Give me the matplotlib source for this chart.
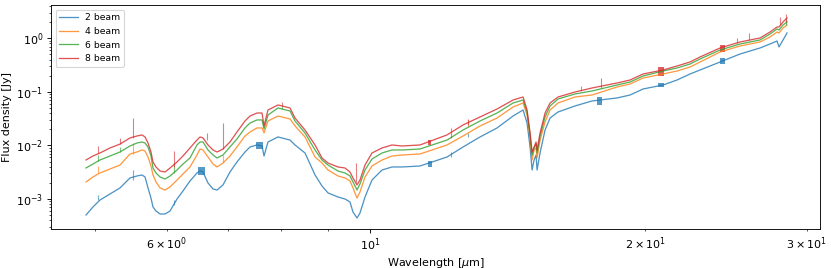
import matplotlib
matplotlib.use("Agg")
import matplotlib.pyplot as plt

# ---------------- data ----------------
wavelength = [4.894, 4.980, 5.069, 5.198, 5.331, 5.466, 5.563, 5.634, 5.677, 5.720,
              5.763, 5.792, 5.836, 5.896, 5.970, 6.046, 6.153, 6.246, 6.357, 6.470,
              6.520, 6.569, 6.652, 6.737, 6.805, 6.908, 7.030, 7.155, 7.301, 7.394,
              7.525, 7.621, 7.659, 7.736, 7.934, 8.177, 8.280, 8.491, 8.708, 8.862,
              8.997, 9.226, 9.391, 9.509, 9.581, 9.678, 9.751, 9.875, 10.050, 10.307,
              10.569, 10.839, 11.340, 12.139, 12.638, 13.191, 13.768, 14.334, 14.699, 14.847,
              14.960, 15.036, 15.111, 15.187, 15.226, 15.341, 15.535, 15.732, 16.052, 16.750,
              17.484, 18.622, 19.241, 19.881, 20.907, 21.656, 22.376, 22.946, 24.130, 25.375,
              26.684, 27.364, 27.850, 27.990, 28.273, 28.560]

flux_2beam = [0.000503, 0.000710, 0.000958, 0.00124, 0.00161, 0.00247, 0.00269, 0.00281, 0.00258, 0.00161,
              0.00104, 0.000710, 0.000597, 0.000525, 0.000525, 0.000597, 0.001000, 0.00141, 0.00217, 0.00306,
              0.00333, 0.00319, 0.00199, 0.00154, 0.00147, 0.00183, 0.00319, 0.00491, 0.00754, 0.00935,
              0.0102, 0.00976, 0.00635, 0.0116, 0.0144, 0.0126, 0.0102, 0.00723, 0.00281, 0.00175,
              0.00130, 0.00109, 0.001000, 0.000879, 0.000572, 0.000442, 0.000548, 0.00109, 0.00226, 0.00348,
              0.00396, 0.00396, 0.00413, 0.00608, 0.00935, 0.0144, 0.0212, 0.0354, 0.0459, 0.0262,
              0.00935, 0.00348, 0.00535, 0.00663, 0.00348, 0.00723, 0.0194, 0.0325, 0.0421, 0.0545,
              0.0676, 0.0769, 0.0874, 0.1131, 0.1343, 0.1665, 0.2156, 0.256, 0.361, 0.509,
              0.659, 0.783, 0.890, 0.688, 0.930, 1.256]

flux_4beam = [0.00208, 0.00258, 0.00306, 0.00363, 0.00431, 0.00692, 0.00754, 0.00822, 0.00787, 0.00608,
              0.00413, 0.00281, 0.00208, 0.00161, 0.00147, 0.00168, 0.00226, 0.00293, 0.00396, 0.00663,
              0.00858, 0.00822, 0.00608, 0.00450, 0.00396, 0.00470, 0.00635, 0.00935, 0.0150, 0.0178,
              0.0212, 0.0212, 0.0171, 0.0286, 0.0354, 0.0312, 0.0231, 0.0144, 0.00608, 0.00470,
              0.00348, 0.00269, 0.00247, 0.00217, 0.00161, 0.00104, 0.00135, 0.00258, 0.00413, 0.00535,
              0.00635, 0.00663, 0.00692, 0.0102, 0.0150, 0.0231, 0.0325, 0.0522, 0.0620, 0.0370,
              0.0138, 0.00535, 0.00822, 0.00896, 0.00583, 0.0126, 0.0274, 0.0459, 0.0620, 0.0802,
              0.0874, 0.1233, 0.1402, 0.1815, 0.2156, 0.245, 0.291, 0.361, 0.555, 0.718,
              0.853, 1.057, 1.311, 1.256, 1.557, 1.771]

flux_6beam = [0.00379, 0.00450, 0.00535, 0.00635, 0.00754, 0.00976, 0.0111, 0.0116, 0.0111, 0.00935,
              0.00635, 0.00379, 0.00306, 0.00258, 0.00236, 0.00269, 0.00348, 0.00450, 0.00583, 0.0102,
              0.0116, 0.0116, 0.00822, 0.00663, 0.00583, 0.00663, 0.00935, 0.0132, 0.0212, 0.0262,
              0.0299, 0.0299, 0.0203, 0.0370, 0.0500, 0.0439, 0.0286, 0.0171, 0.00822, 0.00535,
              0.00431, 0.00333, 0.00306, 0.00269, 0.00208, 0.00147, 0.00191, 0.00348, 0.00558, 0.00723,
              0.00822, 0.00822, 0.00858, 0.0126, 0.0194, 0.0286, 0.0403, 0.0620, 0.0705, 0.0421,
              0.0157, 0.00663, 0.00896, 0.0106, 0.00723, 0.0150, 0.0340, 0.0545, 0.0736, 0.0913,
              0.1038, 0.1343, 0.1528, 0.1978, 0.245, 0.279, 0.331, 0.411, 0.605, 0.783,
              0.930, 1.203, 1.492, 1.429, 1.771, 2.015]

flux_8beam = [0.00535, 0.00635, 0.00723, 0.00896, 0.0106, 0.0138, 0.0150, 0.0157, 0.0144, 0.0111,
              0.00754, 0.00491, 0.00396, 0.00333, 0.00319, 0.00379, 0.00491, 0.00635, 0.00896, 0.0126,
              0.0144, 0.0138, 0.0102, 0.00822, 0.00754, 0.00858, 0.0116, 0.0178, 0.0286, 0.0354,
              0.0403, 0.0403, 0.0231, 0.0459, 0.0569, 0.0500, 0.0325, 0.0194, 0.0102, 0.00583,
              0.00470, 0.00396, 0.00379, 0.00319, 0.00247, 0.00183, 0.00226, 0.00431, 0.00723, 0.00896,
              0.0102, 0.00976, 0.0102, 0.0157, 0.0241, 0.0340, 0.0479, 0.0705, 0.0802, 0.0459,
              0.0171, 0.00754, 0.00935, 0.0116, 0.00822, 0.0171, 0.0403, 0.0620, 0.0802, 0.0994,
              0.1181, 0.1464, 0.1665, 0.2156, 0.256, 0.304, 0.361, 0.448, 0.659, 0.853,
              1.013, 1.311, 1.625, 1.625, 2.015, 2.393]

# narrow emission spikes: wavelength, flux at base, flux at tip
spike_wl_2beam = [5.044, 5.507, 6.107, 12.26, 12.80]
spike_lo_2beam = [0.000958, 0.00226, 0.000760, 0.00608, 0.0144]
spike_hi_2beam = [0.00119, 0.00348, 0.000958, 0.00763, 0.0171]

spike_wl_4beam = [5.044, 5.507, 6.908, 12.80]
spike_lo_4beam = [0.00306, 0.00692, 0.00491, 0.0231]
spike_hi_4beam = [0.00413, 0.0111, 0.00663, 0.0299]

spike_wl_6beam = [5.044, 5.331, 6.107, 8.014, 28.49]
spike_lo_6beam = [0.00512, 0.00754, 0.00306, 0.0475, 1.771]
spike_hi_6beam = [0.00663, 0.00935, 0.00470, 0.0545, 2.30]

spike_wl_8beam = [5.044, 5.331, 5.507, 6.107, 6.636, 6.908, 8.014, 9.654, 12.26, 12.80,
                  17.01, 17.89, 25.18, 25.96, 28.06, 28.49]
spike_lo_8beam = [0.00723, 0.0106, 0.0138, 0.00396, 0.0126, 0.00858, 0.0545, 0.00208, 0.0138, 0.0241,
                  0.1038, 0.1181, 0.817, 0.930, 1.771, 2.015]
spike_hi_8beam = [0.00976, 0.0138, 0.0325, 0.00787, 0.0171, 0.0262, 0.0647, 0.00470, 0.0212, 0.0312,
                  0.1288, 0.1815, 1.013, 1.256, 2.498, 2.842]

# fringe bands: wavelength start/end, flux low/high
fringe_wl0_2beam = [6.487, 7.506, 11.57, 17.71, 20.64, 24.13]
fringe_wl1_2beam = [6.602, 7.640, 11.68, 17.93, 20.96, 24.43]
fringe_lo_2beam = [0.00281, 0.00858, 0.00396, 0.0569, 0.1233, 0.331]
fringe_hi_2beam = [0.00396, 0.0116, 0.00512, 0.0802, 0.1464, 0.429]

fringe_wl0_8beam = [11.58, 20.64, 24.13]
fringe_wl1_8beam = [11.67, 20.96, 24.43]
fringe_lo_8beam = [0.0102, 0.1978, 0.555]
fringe_hi_8beam = [0.0126, 0.291, 0.750]

labels = ["2 beam", "4 beam", "6 beam", "8 beam"]
colors = ["#1f77b4", "#ff7f0e", "#2ca02c", "#d62728"]

# ---------------- plot ----------------
fig = plt.figure(figsize=(831 / 80, 268 / 80), dpi=80)
ax = fig.add_axes([51 / 831, 39 / 268, (820 - 51) / 831, (229 - 5) / 268])

series = [flux_2beam, flux_4beam, flux_6beam, flux_8beam]
spikes = [(spike_wl_2beam, spike_lo_2beam, spike_hi_2beam),
          (spike_wl_4beam, spike_lo_4beam, spike_hi_4beam),
          (spike_wl_6beam, spike_lo_6beam, spike_hi_6beam),
          (spike_wl_8beam, spike_lo_8beam, spike_hi_8beam)]
fringes = {0: (fringe_wl0_2beam, fringe_wl1_2beam, fringe_lo_2beam, fringe_hi_2beam),
           3: (fringe_wl0_8beam, fringe_wl1_8beam, fringe_lo_8beam, fringe_hi_8beam)}

lw = 1.15
alpha = 0.8
for i, (flux, lab, c) in enumerate(zip(series, labels, colors)):
    ax.plot(wavelength, flux, color=c, lw=lw, alpha=alpha, label=lab)
    swl, slo, shi = spikes[i]
    ax.vlines(swl, slo, shi, color=c, lw=1.0, alpha=0.6)
    if i in fringes:
        w0, w1, flo, fhi = fringes[i]
        for a, b, lo, hi in zip(w0, w1, flo, fhi):
            ax.fill_between([a, b], [lo, lo], [hi, hi], color=c, alpha=0.75, lw=0)

ax.set_xscale("log")
ax.set_yscale("log")
ax.set_xlim(4.481, 31.03)
ax.set_ylim(2.755e-4, 4.18)
ax.set_xlabel(r"Wavelength [$\mu$m]", labelpad=2)
ax.set_ylabel("Flux density [Jy]")
ax.legend(loc="upper left", fontsize="small")

fig.savefig("out.png", dpi=80)
